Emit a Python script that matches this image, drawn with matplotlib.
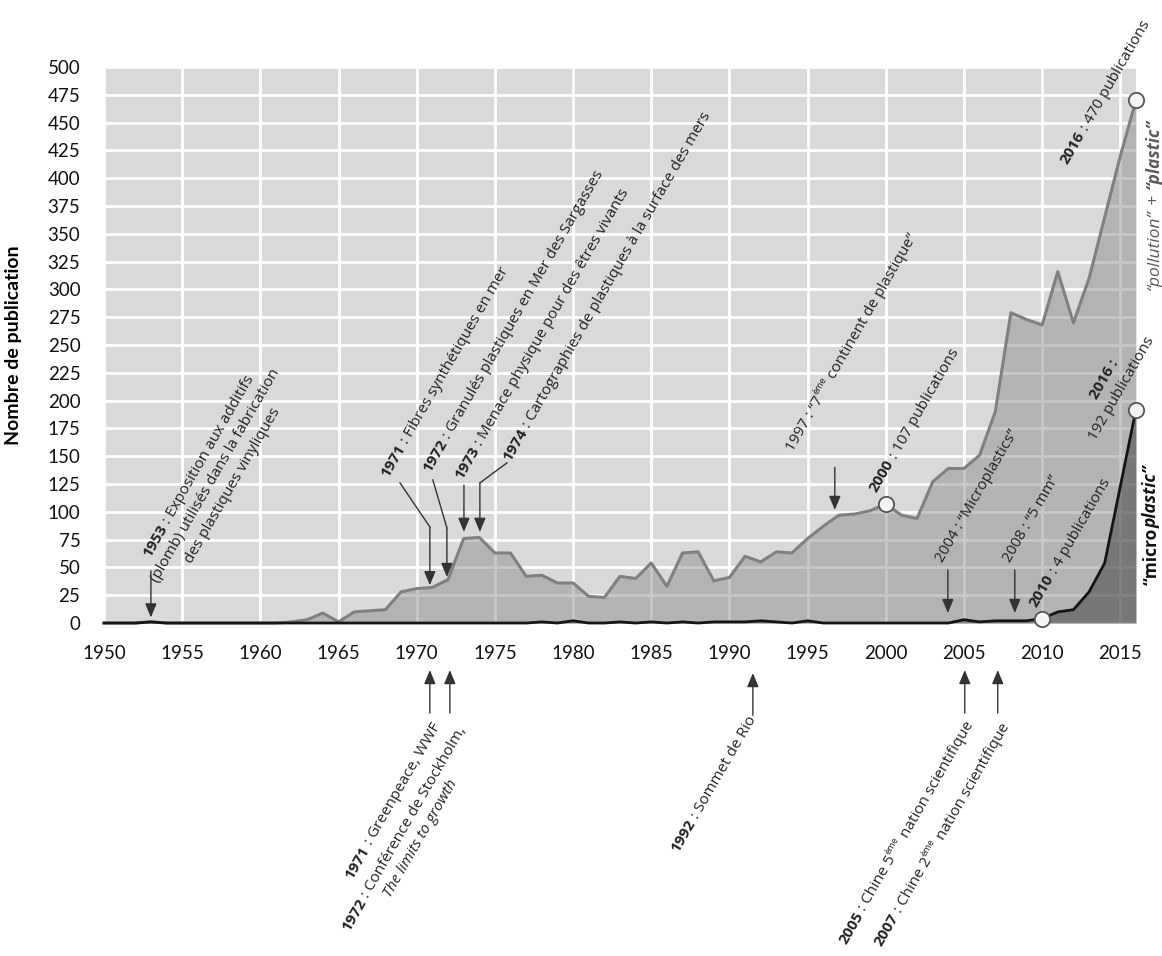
import numpy as np
import matplotlib
matplotlib.use("Agg")
import matplotlib.pyplot as plt
import matplotlib.transforms as mtransforms

# publications par an
years = np.arange(1950, 2017)
pollution = [0, 0, 0, 1, 0, 0, 0, 0, 0, 0,
             0, 0, 1, 3, 9, 1, 10, 11, 12, 28,
             31, 32, 39, 76, 77, 63, 63, 42, 43, 36,
             36, 24, 23, 42, 40, 54, 33, 63, 64, 38,
             41, 60, 55, 64, 63, 76, 87, 97, 98, 101,
             107, 97, 94, 127, 139, 139, 151, 190, 279, 273,
             268, 316, 270, 310, 365, 420, 470]
micro = [0, 0, 0, 1, 0, 0, 0, 0, 0, 0,
         0, 0, 0, 0, 0, 0, 0, 0, 0, 0,
         0, 0, 0, 0, 0, 0, 0, 0, 1, 0,
         2, 0, 0, 1, 0, 1, 0, 1, 0, 1,
         1, 1, 2, 1, 0, 2, 0, 0, 0, 0,
         0, 0, 0, 0, 0, 3, 1, 2, 2, 2,
         4, 10, 12, 28, 54, 123, 192]

FONT = "Open Sans"
TICKFONT = "Lato"
INK = "#222222"

fig = plt.figure(figsize=(11.62, 9.56), dpi=100)
ax = fig.add_axes([0.0895, 0.3483, 0.8881, 0.5816])
renderer = fig.canvas.get_renderer()

ax.set_facecolor("#d9d9d9")
ax.set_xlim(1950, 2016)
ax.set_ylim(0, 500)
ax.set_xticks(np.arange(1950, 2016, 5))
ax.set_yticks(np.arange(0, 501, 25))
ax.grid(True, color="white", lw=2)
ax.set_axisbelow(True)
for s in ax.spines.values():
    s.set_visible(False)
ax.tick_params(length=0, labelsize=13.5, colors="#111111")
ax.tick_params(axis="x", pad=16)
ax.tick_params(axis="y", pad=17)
for lab in ax.get_xticklabels() + ax.get_yticklabels():
    lab.set_family(TICKFONT)
ax.set_ylabel("Nombre de publication", fontsize=14, fontweight="bold", family=TICKFONT)
ax.yaxis.set_label_coords(-0.079, 0.5)

ax.fill_between(years, pollution, color="#8a8a8a", alpha=0.47, lw=0)
ax.plot(years, pollution, color="#808080", lw=2.2, clip_on=False)
ax.fill_between(years, micro, color="#3c3c3c", alpha=0.5, lw=0)
ax.plot(years, micro, color="#151515", lw=2, clip_on=False)

for x, y in [(2000, 107), (2010, 4), (2016, 192), (2016, 470)]:
    ax.plot(x, y, "o", ms=11, mfc="#f4f4f4", mec="#555555", mew=1.3, clip_on=False, zorder=5)


def width(s, size, props):
    kw = dict(fontsize=size, family=FONT, fontweight=props.get("weight", "normal"),
              fontstyle=props.get("style", "normal"))
    t = fig.text(0, 0, "|" + s + "|", **kw)
    a = t.get_window_extent(renderer).width
    t.remove()
    t = fig.text(0, 0, "||", **kw)
    b = t.get_window_extent(renderer).width
    t.remove()
    return a - b


def rich(x, y, lines, rot=60, size=11, align="left", color=INK, lh=1.27):
    px = size * fig.dpi / 72
    th = np.deg2rad(rot)
    u = np.array([np.cos(th), np.sin(th)])
    n = np.array([np.sin(th), -np.cos(th)])
    ws = [[width(s, size * p.get("scale", 1), p) for s, p in line] for line in lines]
    tot = [sum(w) for w in ws]
    c0 = {"left": tot[0] / 2, "right": -tot[0] / 2, "center": 0}[align]
    for i, line in enumerate(lines):
        along = c0 - tot[i] / 2
        for (s, p), w in zip(line, ws[i]):
            off = along * u + i * lh * px * n - p.get("rise", 0) * px * n
            tr = mtransforms.offset_copy(ax.transData, fig=fig, x=off[0], y=off[1], units="dots")
            ax.text(x, y, s, transform=tr, rotation=rot, rotation_mode="anchor",
                    ha="left", va="baseline", fontsize=size * p.get("scale", 1), family=FONT,
                    fontweight=p.get("weight", "normal"), fontstyle=p.get("style", "normal"),
                    color=p.get("color", color), clip_on=False, zorder=6)
            along += w


B = {"weight": "bold"}
R = {}
I = {"style": "italic"}
SUP = {"scale": 0.6, "rise": 0.45}


def arrow(xs, ys):
    if len(xs) > 2:
        ax.plot(xs[:-1], ys[:-1], color="#333333", lw=1, clip_on=False, zorder=6)
    ax.annotate("", xy=(xs[-1], ys[-1]), xytext=(xs[-2], ys[-2]), annotation_clip=False,
                arrowprops=dict(arrowstyle="-|>,head_length=0.6,head_width=0.25", color="#333333",
                                lw=1, mutation_scale=14, shrinkA=0, shrinkB=0), zorder=6)


# annotations dans le graphique
rich(1952.94, 58.5, [[("1953", B), (" : Exposition aux additifs", R)],
                     [("(plomb) utilisés dans la fabrication", R)],
                     [("des plastiques vinyliques", R)]])
arrow([1953, 1953], [47, 5])

rich(1968.16, 130.5, [[("1971", B), (" : Fibres synthétiques en mer", R)]])
arrow([1968.93, 1970.84, 1970.84], [126, 86.4, 34])
rich(1970.84, 135, [[("1972", B), (" : Granulés plastiques en Mer des Sargasses", R)]])
arrow([1971.03, 1971.93, 1971.93], [128.7, 85.5, 41.4])
rich(1972.9, 128.7, [[("1973", B), (" : Menace physique pour des êtres vivants", R)]])
arrow([1973.02, 1973.02], [124, 82])
rich(1975.96, 145, [[("1974", B), (" : Cartographies de plastiques à la surface des mers", R)]])
arrow([1975.77, 1974.04, 1974.04], [144, 126, 82])

rich(1994.05, 154, [[("1997 : \u201c7", R), ("ème", SUP), (" continent de plastique\u201d", R)]])
arrow([1996.74, 1996.74], [140, 101.7])
rich(1999.42, 117, [[("2000", B), (" : 107 publications", R)]])
rich(2003.65, 54, [[("2004 : \u201cMicroplastics\u201d", R)]])
arrow([2003.97, 2003.97], [47.7, 9])
rich(2007.93, 54, [[("2008 : \u201c5 mm\u201d", R)]])
arrow([2008.25, 2008.25], [47.7, 9])
rich(2009.65, 13.5, [[("2010", B), (" : 4 publications", R)]])
rich(2013.5, 200.7, [[("2016 :", B)], [("192 publications", R)]], align="left")
rich(2011.64, 412, [[("2016", B), (" : 470 publications", R)]])

rich(2017.45, 376, [[("\u201cpollution\u201d", {"style": "italic", "color": "#5a5a5a"}),
                     (" + ", {"color": "#5a5a5a"}),
                     ("\u201cplastic\u201d", {"style": "italic", "weight": "bold", "color": "#5a5a5a"})]],
     rot=90, size=12.5, align="center")
rich(2017.3, 88, [[("\u201cmicro", {"weight": "bold", "color": "#111111"}),
                   ("plastic\u201d", {"weight": "bold", "style": "italic", "color": "#111111"})]],
     rot=90, size=12.5, align="center")

# annotations sous l'axe
rich(1971.55, -92.7, [[("1971", B), (" : Greenpeace, WWF", R)]], align="right")
arrow([1970.84, 1970.84], [-81, -42.3])
rich(1973.15, -95.4, [[("1972", B), (" : Conférence de Stockholm,", R)],
                      [("The limits to growth", I)]], align="right")
arrow([1972.12, 1972.12], [-81, -42.3])
rich(1991.7, -86.4, [[("1992", B), (" : Sommet de Rio", R)]], align="right")
arrow([1991.5, 1991.5], [-83, -45])
rich(2005.6, -91, [[("2005", B), (" : Chine 5", R), ("ème", SUP), (" nation scientifique", R)]], align="right")
arrow([2005.05, 2005.05], [-81, -42.3])
rich(2007.9, -92.7, [[("2007", B), (" : Chine 2", R), ("ème", SUP), (" nation scientifique", R)]], align="right")
arrow([2007.16, 2007.16], [-81, -42.3])

fig.savefig("out.png", dpi=100)
